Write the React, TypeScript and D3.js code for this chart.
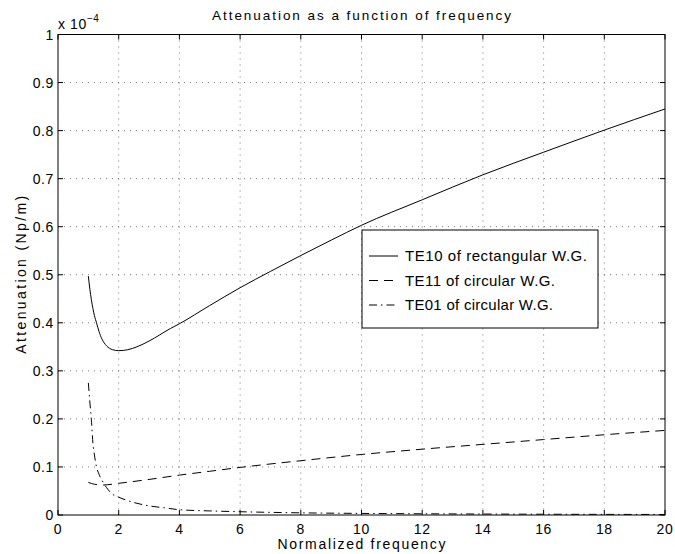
import React from "react";
import * as d3 from "d3";

const te10X = [1.0, 1.05, 1.1, 1.15, 1.2, 1.27, 1.35, 1.45, 1.6, 1.8, 2.0, 2.3, 2.6, 3, 3.7, 4, 5, 6, 7, 8, 9, 10, 12, 14, 16, 18, 20];
const te10Y = [0.497, 0.47, 0.448, 0.43, 0.415, 0.4, 0.382, 0.366, 0.352, 0.344, 0.342, 0.344, 0.35, 0.362, 0.388, 0.398, 0.436, 0.473, 0.507, 0.54, 0.572, 0.603, 0.656, 0.708, 0.755, 0.801, 0.845];

const te11X = [1.0, 1.2, 1.5, 2, 3, 4, 5, 6, 8, 10, 12, 14, 16, 18, 20];
const te11Y = [0.068, 0.064, 0.0625, 0.066, 0.074, 0.083, 0.091, 0.099, 0.113, 0.126, 0.137, 0.147, 0.157, 0.167, 0.176];

const te01X = [1.0, 1.05, 1.1, 1.15, 1.2, 1.27, 1.35, 1.45, 1.6, 1.8, 2, 2.5, 3, 3.5, 4, 5, 6, 8, 10, 12, 14, 16, 18, 20];
const te01Y = [0.275, 0.235, 0.198, 0.15, 0.125, 0.1, 0.085, 0.072, 0.057, 0.043, 0.037, 0.026, 0.019, 0.015, 0.011, 0.0085, 0.0068, 0.0045, 0.0033, 0.0025, 0.002, 0.0016, 0.0013, 0.0011];

const xTicks = [0, 2, 4, 6, 8, 10, 12, 14, 16, 18, 20];
const yTicks = [0, 0.1, 0.2, 0.3, 0.4, 0.5, 0.6, 0.7, 0.8, 0.9, 1];

const legendLabels = ["TE10 of rectangular W.G.", "TE11 of circular W.G.", "TE01 of circular W.G."];
const legendWidths = [182, 150, 148];
const dashes = ["none", "9,6", "8,4,1.5,4"];

const titleText = "Attenuation as a function of frequency";
const xLabel = "Normalized frequency";
const yLabel = "Attenuation (Np/m)";

export default function App() {
  const W = 675, H = 554;
  const L = 58, R = 665, T = 34.5, B = 515;
  const x = d3.scaleLinear().domain([0, 20]).range([L, R]);
  const y = d3.scaleLinear().domain([0, 1]).range([B, T]);
  const line = d3.line<[number, number]>().x(d => x(d[0])).y(d => y(d[1])).curve(d3.curveMonotoneX);
  const series = [
    te10X.map((v, i) => [v, te10Y[i]] as [number, number]),
    te11X.map((v, i) => [v, te11Y[i]] as [number, number]),
    te01X.map((v, i) => [v, te01Y[i]] as [number, number]),
  ];
  const font = "Liberation Sans, Arial, Helvetica, sans-serif";
  const tk = 5;
  const lgX = 362, lgY = 230, lgW = 236, lgH = 98;
  return (
    <svg width={W} height={H} style={{ position: "absolute", left: 0, top: 0, background: "#fff" }} fontFamily={font}>
      <rect x={0} y={0} width={W} height={H} fill="#fff" />
      {xTicks.slice(1, -1).map(t => (
        <line key={"gx" + t} x1={x(t)} x2={x(t)} y1={T} y2={B} stroke="#444" strokeWidth={0.7} strokeDasharray="1,5" />
      ))}
      {yTicks.slice(1, -1).map(t => (
        <line key={"gy" + t} x1={L} x2={R} y1={y(t)} y2={y(t)} stroke="#444" strokeWidth={0.7} strokeDasharray="1,5" />
      ))}
      {series.map((s, i) => (
        <path key={"s" + i} d={line(s) || ""} fill="none" stroke="#000" strokeWidth={1} strokeDasharray={dashes[i]} />
      ))}
      <rect x={L} y={T} width={R - L} height={B - T} fill="none" stroke="#000" strokeWidth={1} />
      {xTicks.map(t => (
        <g key={"xt" + t}>
          <line x1={x(t)} x2={x(t)} y1={B} y2={B - tk} stroke="#000" />
          <line x1={x(t)} x2={x(t)} y1={T} y2={T + tk} stroke="#000" />
          <text x={x(t)} y={B + 19} textAnchor="middle" fontSize={14} letterSpacing={0.6}>{t}</text>
        </g>
      ))}
      {yTicks.map(t => (
        <g key={"yt" + t}>
          <line x1={L} x2={L + tk} y1={y(t)} y2={y(t)} stroke="#000" />
          <line x1={R} x2={R - tk} y1={y(t)} y2={y(t)} stroke="#000" />
          <text x={L - 4} y={y(t) + 5} textAnchor="end" fontSize={14} letterSpacing={0.6}>{d3.format("")(t)}</text>
        </g>
      ))}
      <text x={L} y={T - 6} fontSize={14} letterSpacing={0.6}>x 10<tspan dy={-7} fontSize={10}>−4</tspan></text>
      <text x={(L + R) / 2} y={20} textAnchor="middle" fontSize={13.5} textLength={299} lengthAdjust="spacing">{titleText}</text>
      <text x={(L + R) / 2} y={549} textAnchor="middle" fontSize={14} textLength={168} lengthAdjust="spacing">{xLabel}</text>
      <text transform={`translate(26,${(T + B) / 2}) rotate(-90)`} textAnchor="middle" fontSize={14} textLength={158} lengthAdjust="spacing">{yLabel}</text>
      <rect x={lgX} y={lgY} width={lgW} height={lgH} fill="#fff" stroke="#000" strokeWidth={1} />
      {legendLabels.map((lab, i) => (
        <g key={"lg" + i}>
          <line x1={lgX + 7} x2={lgX + 36} y1={lgY + 26 + i * 24.5} y2={lgY + 26 + i * 24.5} stroke="#000" strokeDasharray={dashes[i]} />
          <text x={lgX + 43} y={lgY + 31 + i * 24.5} fontSize={15} textLength={legendWidths[i]} lengthAdjust="spacing">{lab}</text>
        </g>
      ))}
    </svg>
  );
}
